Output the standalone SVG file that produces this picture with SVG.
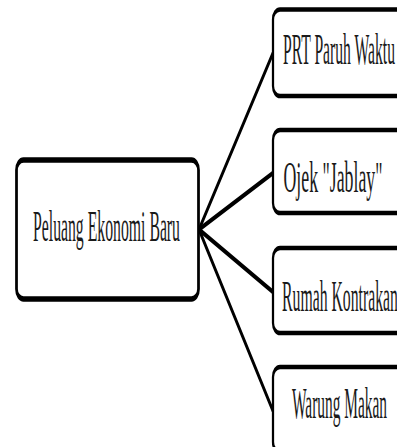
<svg xmlns="http://www.w3.org/2000/svg" width="397" height="447" viewBox="0 0 397 447">
  <style>
    .box { fill: #ffffff; stroke: #000000; }
    .main { stroke-width: 5.5; }
    .leaf { stroke-width: 4.5; }
    .conn { stroke: #000000; stroke-width: 5; fill: none; stroke-linecap: round; }
    .lbl { font-family: "Liberation Serif", "Times New Roman", serif; font-size: 44px; fill: #1a1a1a; text-anchor: middle; }
  </style>
  <rect width="397" height="447" fill="#ffffff"/>
  <g transform="scale(0.5 1)">
    <g id="connectors">
      <line class="conn" x1="398" y1="229.5" x2="546" y2="53"/>
      <line class="conn" x1="398" y1="229.5" x2="546" y2="173"/>
      <line class="conn" x1="398" y1="229.5" x2="546" y2="292"/>
      <line class="conn" x1="398" y1="229.5" x2="546" y2="411"/>
    </g>
    <g id="node-main">
      <rect class="box main" x="33" y="160" width="364" height="139" rx="14" ry="10"/>
      <text class="lbl" x="213" y="241" textLength="294" lengthAdjust="spacingAndGlyphs">Peluang Ekonomi Baru</text>
    </g>
    <g id="node-prt">
      <rect class="box leaf" x="546" y="9.5" width="300" height="86.5" rx="14" ry="10"/>
      <text class="lbl" x="678" y="64" textLength="224" lengthAdjust="spacingAndGlyphs">PRT Paruh Waktu</text>
    </g>
    <g id="node-ojek">
      <rect class="box leaf" x="546" y="130" width="300" height="83" rx="14" ry="10"/>
      <text class="lbl" x="666" y="192" textLength="198" lengthAdjust="spacingAndGlyphs">Ojek "Jablay"</text>
    </g>
    <g id="node-rumah">
      <rect class="box leaf" x="546" y="248" width="300" height="85" rx="14" ry="10"/>
      <text class="lbl" x="680" y="311" textLength="232" lengthAdjust="spacingAndGlyphs">Rumah Kontrakan</text>
    </g>
    <g id="node-warung">
      <rect class="box leaf" x="546" y="367" width="300" height="85" rx="14" ry="10"/>
      <text class="lbl" x="679" y="418" textLength="190" lengthAdjust="spacingAndGlyphs">Warung Makan</text>
    </g>
  </g>
</svg>
